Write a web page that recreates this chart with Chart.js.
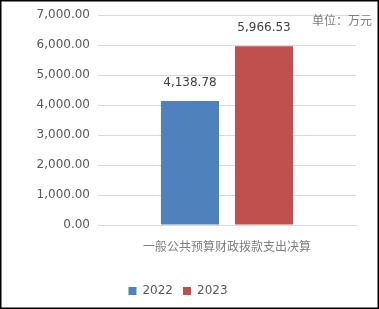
<!DOCTYPE html>
<html><head><meta charset="utf-8">
<script src="https://cdn.jsdelivr.net/npm/chart.js@4"></script>
<style>html,body{margin:0;padding:0;background:#fff}#wrap{width:379px;height:309px;position:relative}</style>
</head><body><div id="wrap"><canvas id="c" width="379" height="309"></canvas></div>
<script>
const categories = ['一般公共预算财政拨款支出决算'];
const seriesNames = ['2022', '2023'];
const values2022 = [4138.78];
const values2023 = [5966.53];
const unitText = '单位：万元';
const FONT = "'DejaVu Sans', 'Noto Sans CJK SC', sans-serif";
const fmt = v => v.toLocaleString('en-US', {minimumFractionDigits: 2, maximumFractionDigits: 2});

const extras = {
  id: 'extras',
  afterDatasetsDraw(chart) {
    const ctx = chart.ctx;
    ctx.save();
    ctx.font = '12px ' + FONT;
    ctx.fillStyle = '#404040';
    ctx.textAlign = 'center';
    ctx.textBaseline = 'middle';
    chart.data.datasets.forEach((ds, i) => {
      chart.getDatasetMeta(i).data.forEach((bar, j) => {
        ctx.fillText(fmt(ds.data[j]), bar.x, bar.y - 18);
      });
    });
    ctx.fillStyle = '#7f7f7f';
    ctx.textAlign = 'right';
    ctx.fillText(unitText, 372, 22);
    ctx.restore();
  },
  afterDraw(chart) {
    const ctx = chart.ctx;
    ctx.save();
    ctx.strokeStyle = '#000';
    ctx.lineWidth = 1.5;
    ctx.strokeRect(0.75, 0.75, chart.width - 1.5, chart.height - 1.5);
    ctx.restore();
  }
};

new Chart(document.getElementById('c'), {
  type: 'bar',
  data: {
    labels: categories,
    datasets: [
      {label: seriesNames[0], data: values2022, backgroundColor: '#4F81BD'},
      {label: seriesNames[1], data: values2023, backgroundColor: '#C0504D'}
    ]
  },
  options: {
    responsive: false,
    animation: false,
    devicePixelRatio: 1,
    layout: {padding: {left: 0, right: 23, top: 9, bottom: 2}},
    datasets: {bar: {categoryPercentage: 0.574, barPercentage: 0.784}},
    scales: {
      x: {
        grid: {display: false},
        border: {color: '#D9D9D9'},
        ticks: {color: '#7f7f7f', font: {family: FONT, size: 12}, padding: 8},
        afterFit(s) { s.height = 50; }
      },
      y: {
        min: 0, max: 7000,
        ticks: {stepSize: 1000, color: '#595959', font: {family: FONT, size: 12}, padding: 8, callback: v => fmt(v)},
        grid: {color: '#D9D9D9', drawTicks: false},
        border: {display: false},
        afterFit(s) { s.width = 98; }
      }
    },
    plugins: {
      legend: {
        position: 'bottom',
        labels: {boxWidth: 8, boxHeight: 8, color: '#595959', font: {family: FONT, size: 12}, padding: 10}
      },
      tooltip: {enabled: false}
    }
  },
  plugins: [extras]
});
</script></body></html>
